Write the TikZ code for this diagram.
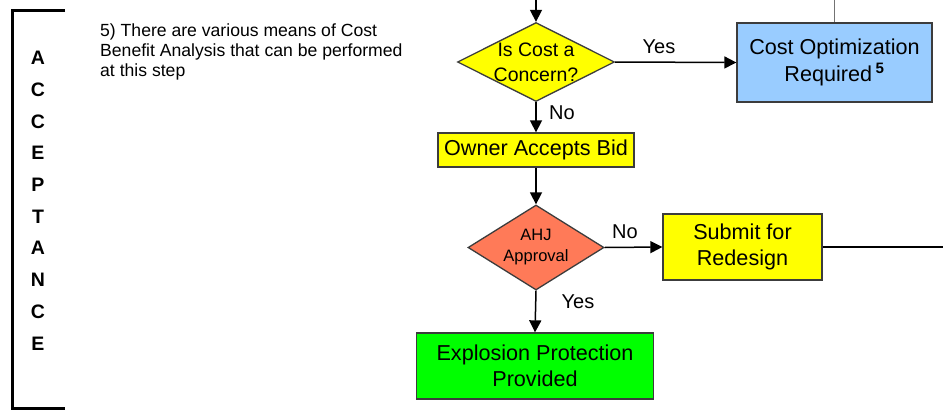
\documentclass[tikz,border=0pt]{standalone}
\usepackage{fontspec}
\setmainfont{Liberation Sans}
\usetikzlibrary{shapes.geometric,arrows.meta}

\definecolor{boxyellow}{RGB}{255,255,0}
\definecolor{boxblue}{RGB}{153,204,255}
\definecolor{boxsalmon}{RGB}{255,122,88}
\definecolor{boxgreen}{RGB}{0,255,0}
\definecolor{edge}{RGB}{60,60,60}

\begin{document}
\begin{tikzpicture}[x=1pt,y=-1pt,
  box/.style={draw=edge, line width=1.3pt, inner sep=0pt, align=center,
              font=\fontsize{21.6}{26.5}\selectfont},
  decision/.style={shape=diamond, draw=edge, line width=1.3pt, inner sep=0pt},
  flow/.style={draw=black, line width=1.5pt, -{Triangle[length=12pt,width=12pt]}},
  lbl/.style={font=\fontsize{20}{24}\selectfont, inner sep=0pt},
  stage/.style={font=\fontsize{19.5}{20}\selectfont\bfseries, inner sep=0pt}]

\useasboundingbox (0,0) rectangle (943,410);

% stage bracket on the left
\draw[line width=3pt, line cap=butt] (65,10) -- (12,10) -- (12,408) -- (65,408);
\foreach \ch [count=\i from 0] in {A,C,C,E,P,T,A,N,C,E}
  \node[stage] (st\i) at (38,{58+31.7*\i}) {\ch};

% footnote text
\node[anchor=north west, align=left, inner sep=0pt,
      font=\fontsize{17.6}{20}\selectfont] (note) at (100,24)
  {5) There are various means of Cost\\Benefit Analysis that can be performed\\at this step};

% flow chart nodes
\node[decision, fill=boxyellow, minimum width=157pt, minimum height=79pt,
      label={[align=center, font=\fontsize{19.5}{25}\selectfont]center:Is Cost a\\Concern?}]
  (cost) at (536,62) {};
\node[box, fill=boxblue, minimum width=195pt, minimum height=79pt]
  (opt) at (834.5,62.5) {Cost Optimization\\Required\,\textsuperscript{\textbf{5}}};
\node[box, fill=boxyellow, minimum width=196pt, minimum height=34pt]
  (owner) at (536,150) {Owner Accepts Bid};
\node[decision, fill=boxsalmon, minimum width=136pt, minimum height=85pt,
      label={[align=center, font=\fontsize{16.5}{21}\selectfont]center:AHJ\\Approval}]
  (ahj) at (536,247.5) {};
\node[box, fill=boxyellow, minimum width=159pt, minimum height=66pt]
  (submit) at (742.5,247) {Submit for\\Redesign};
\node[box, fill=boxgreen, minimum width=237pt, minimum height=66pt]
  (prov) at (535,366) {Explosion Protection\\Provided};

% free ends of connectors
\coordinate (inflow) at (536,0);
\coordinate (optup) at (834.5,0);
\coordinate (outright) at (943,247);

% connectors
\draw[flow] (inflow) -- (cost.north);
\draw[flow] (cost.east) -- (opt.west);
\draw[flow] (cost.south) -- (owner.north);
\draw[flow] (owner.south) -- (ahj.north);
\draw[flow] (ahj.east) -- (submit.west);
\draw[flow] (ahj.south) -- (prov.north);
\draw[draw=black!55, line width=1.3pt] (optup) -- (opt.north);
\draw[line width=1.5pt] (submit.east) -- (outright);

% branch labels
\node[lbl] (yes1) at (659,47) {Yes};
\node[lbl] (no1) at (562,113) {No};
\node[lbl] (no2) at (625,232) {No};
\node[lbl] (yes2) at (578,302) {Yes};
\end{tikzpicture}
\end{document}
